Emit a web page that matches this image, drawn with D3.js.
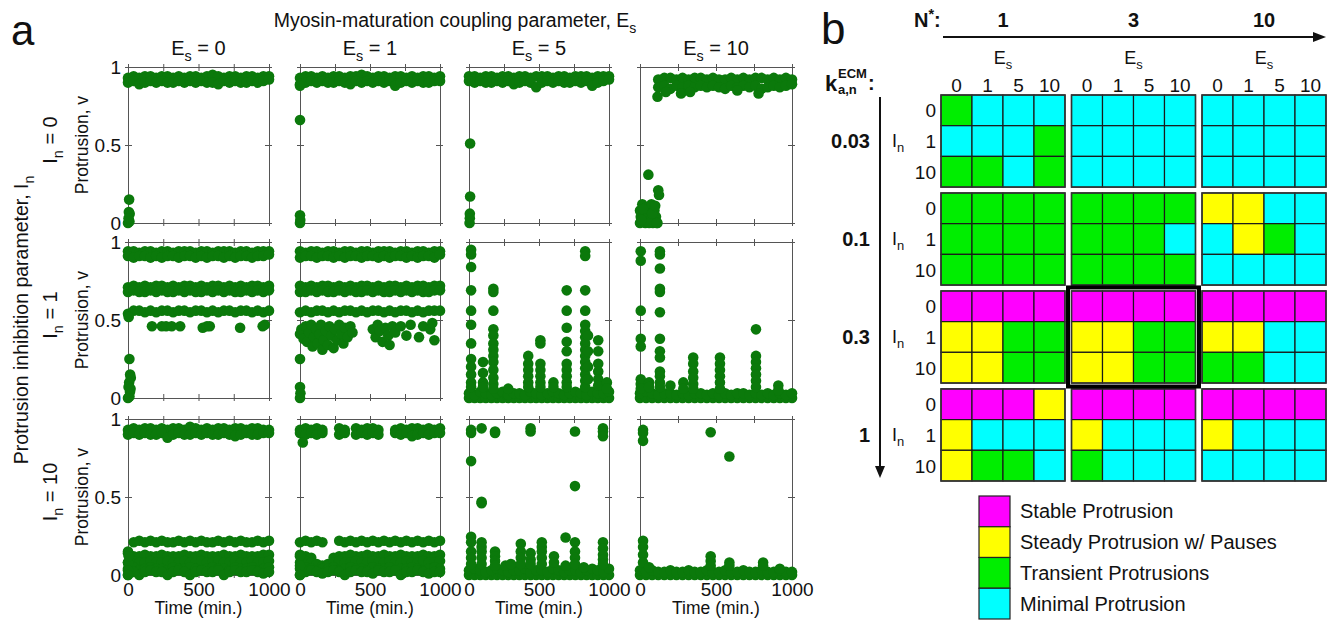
<!DOCTYPE html>
<html><head><meta charset="utf-8">
<script src="https://cdn.jsdelivr.net/npm/d3@7"></script>
<style>
body{margin:0;background:#fff}
svg{display:block}
text{font-family:"Liberation Sans",Arial,Helvetica,sans-serif;fill:#111}
</style>
</head><body><svg id="c" width="1329" height="620"></svg>
<script>
// ---------------- DATA ----------------
// Panel a: sampled times (min.)
const timeGrid = [0,40,80,120,160,200,240,280,320,360,400,440,480,520,560,600,640,680,720,760,800,840,880,920,960,1000];
const esValues = ["0","1","5","10"];
const inValues = ["0","1","10"];
const xTickValues = [0,250,500,750,1000];
const xTickLabels = [0,500,1000];
const yTickValues = [0,0.5,1];
const zeroRow = [0,0,0,0,0,0,0,0,0,0,0,0,0,0,0,0,0,0,0,0,0,0,0,0,0,0];

// I_n = 0
const r0c0Bands = [
 [0.93,0.94,0.93,0.94,0.94,0.93,0.94,0.94,0.93,0.94,0.93,0.94,0.94, 0.93,0.94,0.95,0.94,0.93,0.94,0.94,0.93,0.94,0.94,0.93,0.94,0.94],
 [0.90,0.91,0.89,0.90,0.91,0.90,0.91,0.90,0.90,0.91,0.90,0.91,0.90, 0.91,0.90,0.90,0.89,0.91,0.90,0.91,0.90,0.90,0.91,0.90,0.91,0.92]];
const r0c0Points = [[8,0.15],[6,0.07],[12,0.06],[0,0.0],[10,0.01],[4,0.03]];
const r0c1Bands = [
 [0.93,0.94,0.94,0.93,0.94,0.93,0.94,0.94,0.93,0.94,0.94,0.95,0.94, 0.93,0.94,0.94,0.93,0.94,0.94,0.93,0.94,0.93,0.94,0.94,0.93,0.94],
 [0.89,0.90,0.91,0.90,0.91,0.90,0.90,0.91,0.90,0.89,0.91,0.90,0.91, 0.90,0.91,0.90,0.91,0.88,0.90,0.91,0.90,0.91,0.90,0.90,0.91,0.91]];
const r0c1Points = [[0,0.88],[0,0.66],[0,0.05],[0,0.0],[2,0.02]];
const r0c2Bands = [
 [0.94,0.94,0.93,0.94,0.94,0.93,0.94,0.94,0.93,0.94,0.94,0.93,0.94, 0.94,0.94,0.93,0.94,0.94,0.93,0.94,0.94,0.94,0.93,0.94,0.94,0.94],
 [0.91,0.90,0.91,0.90,0.90,0.91,0.90,0.91,0.89,0.90,0.91,0.90,0.87, 0.90,0.91,0.90,0.91,0.90,0.90,0.91,0.90,0.91,0.88,0.90,0.91,0.92]];
const r0c2Points = [[8,0.51],[8,0.17],[6,0.06],[6,0.03],[4,0.0]];
const r0c3Bands = [
 [null,null,null,0.92,0.93,0.93,0.92,0.93,0.92,0.93,0.93,0.92,0.93, 0.92,0.92,0.93,0.92,0.93,0.92,0.93,0.93,0.92,0.93,0.92,0.93,0.92],
 [null,null,null,0.87,0.88,0.86,0.88,0.87,0.88,0.87,0.88,0.87,0.88, 0.87,0.86,0.88,0.87,0.88,0.87,0.88,0.86,0.87,0.88,0.87,0.88,0.89]];
const r0c3Points = [[115,0.81],[170,0.84],[270,0.83],[330,0.84],[640,0.85],[780,0.83],[55,0.31],[120,0.21],[125,0.18],
 [0,0.0],[5,0.04],[0,0.08],[15,0.12],[25,0.05],[35,0.0],[45,0.10],[55,0.07],[65,0.03],[75,0.12],[85,0.0],[95,0.08],
 [105,0.04],[115,0.0],[20,0.09],[40,0.03],[60,0.0],[80,0.06],[100,0.11],[110,0.0],[10,0.02]];

// I_n = 1
const r1c0Bands = [
 [0.94,0.94,0.93,0.94,0.94,0.93,0.94,0.94,0.93,0.94,0.94,0.94,0.93, 0.94,0.94,0.93,0.94,0.94,0.94,0.93,0.94,0.94,0.93,0.94,0.94,0.94],
 [0.91,0.90,0.91,0.91,0.90,0.91,0.90,0.91,0.91,0.90,0.91,0.91,0.90, 0.91,0.90,0.91,0.91,0.90,0.91,0.90,0.91,0.91,0.90,0.91,0.91,0.92],
 [0.71,0.72,0.71,0.72,0.71,0.72,0.72,0.71,0.72,0.71,0.72,0.72,0.71, 0.72,0.71,0.72,0.72,0.71,0.72,0.71,0.72,0.71,0.72,0.72,0.71,0.72],
 [0.68,0.69,0.68,0.68,0.69,0.68,0.69,0.68,0.68,0.69,0.68,0.69,0.68, 0.68,0.69,0.68,0.69,0.68,0.69,0.68,0.68,0.69,0.68,0.69,0.68,0.69],
 [0.54,0.56,0.56,0.55,0.56,0.55,0.56,0.56,0.55,0.56,0.56,0.55,0.56, 0.56,0.55,0.56,0.55,0.56,0.56,0.55,0.56,0.56,0.55,0.56,0.55,0.56]];
const r1c0Points = [[5,0.52],[170,0.46],[240,0.46],[270,0.46],[310,0.46],[370,0.46],[530,0.45],[560,0.46],[580,0.46],
 [795,0.45],[955,0.46],[970,0.47],[10,0.25],[15,0.15],[20,0.13],[8,0.10],[4,0.07],[14,0.04],[0,0.0],[10,0.01],[18,0.06]];
const r1c1Bands = [
 [0.94,0.93,0.94,0.94,0.93,0.94,0.94,0.93,0.94,0.94,0.93,0.94,0.94, 0.93,0.94,0.94,0.94,0.93,0.94,0.94,0.93,0.94,0.94,0.93,0.94,0.94],
 [0.90,0.91,0.91,0.90,0.91,0.91,0.90,0.91,0.90,0.91,0.91,0.90,0.91, 0.91,0.90,0.91,0.90,0.91,0.91,0.90,0.91,0.90,0.91,0.91,0.90,0.92],
 [0.72,0.71,0.72,0.71,0.72,0.72,0.71,0.72,0.71,0.72,0.71,0.72,0.72, 0.71,0.72,0.71,0.72,0.72,0.71,0.72,0.71,0.72,0.72,0.71,0.72,0.72],
 [0.68,0.68,0.69,0.68,0.69,0.68,0.68,0.69,0.68,0.69,0.68,0.68,0.69, 0.68,0.69,0.68,0.68,0.69,0.68,0.69,0.68,0.69,0.68,0.68,0.69,0.69],
 [0.55,0.56,0.55,0.56,0.56,0.55,0.56,0.55,0.56,0.56,0.55,0.56,0.55, 0.56,0.56,0.55,0.56,0.55,0.56,0.56,0.55,0.56,0.55,0.56,0.56,0.56]];
const r1c1Points = [[0,0.41],[10,0.44],[25,0.38],[40,0.46],[50,0.36],[65,0.42],[80,0.47],[90,0.33],[100,0.39],[115,0.44],
 [125,0.35],[140,0.41],[150,0.47],[160,0.31],[170,0.37],[185,0.43],[200,0.34],[210,0.46],[225,0.40],[240,0.32],[250,0.44],
 [265,0.37],[280,0.47],[295,0.41],[310,0.35],[320,0.45],[340,0.39],[360,0.46],[375,0.42],[520,0.44],[540,0.39],[555,0.47],
 [570,0.43],[590,0.36],[610,0.45],[630,0.40],[640,0.34],[660,0.46],[680,0.42],[720,0.46],[760,0.40],[790,0.47],[850,0.39],
 [880,0.46],[930,0.44],[945,0.48],[960,0.37],[0,0.25],[0,0.07],[3,0.03],[0,0.0]];
const r1c2Bands = [zeroRow,
 [0.03,0.02,0.04,0.03,0.02,0.03,0.04,0.02,0.03,0.03,0.02,0.04,0.03, 0.02,0.03,0.04,0.03,0.02,0.03,0.04,0.03,0.02,0.04,0.03,0.03,0.04]];
const r1c2Spikes = [
 [15,[0.95,0.92,0.84,0.69,0.56,0.47,0.35,0.25,0.20,0.15,0.10,0.07]],
 [100,[0.23,0.16,0.10,0.07]],
 [174,[0.70,0.68,0.56,0.44,0.40,0.35,0.31,0.27,0.23,0.18,0.13,0.09,0.06]],
 [280,[0.06]],
 [423,[0.27,0.22,0.18,0.14,0.10,0.07]],
 [510,[0.37,0.35,0.22,0.18,0.14,0.10,0.07]],
 [603,[0.10,0.07]],
 [698,[0.69,0.56,0.45,0.36,0.30,0.22,0.18,0.14,0.10,0.07]],
 [830,[0.94,0.91,0.69,0.56,0.47,0.43,0.39,0.35,0.31,0.27,0.23,0.19,0.15,0.11,0.07]],
 [850,[0.40,0.30,0.20,0.12]],
 [923,[0.37,0.30,0.22,0.17,0.12,0.08]],
 [985,[0.10,0.06]]];
const r1c3Bands = [zeroRow,
 [0.03,0.04,0.03,0.02,0.03,0.03,0.02,0.03,0.02,0.03,0.03,0.02,0.03, 0.02,0.03,0.02,0.03,0.03,0.02,0.03,0.02,0.03,0.02,0.03,0.02,0.03]];
const r1c3Spikes = [
 [5,[0.94,0.88,0.56,0.38,0.33,0.12,0.09,0.06]],
 [60,[0.10,0.07]],
 [131,[0.94,0.92,0.83,0.70,0.68,0.55,0.38,0.30,0.26,0.17,0.14,0.10,0.07]],
 [200,[0.08]],
 [285,[0.10,0.06]],
 [350,[0.26,0.22,0.17,0.13,0.09,0.06]],
 [526,[0.26,0.22,0.18,0.14,0.10,0.06]],
 [763,[0.44,0.27,0.23,0.19,0.15,0.11,0.07]],
 [910,[0.08,0.05]]];

// I_n = 10
const r2c0Bands = [
 [0.93,0.94,0.93,0.94,0.94,0.93,0.94,0.93,0.94,0.94,0.93,0.95,0.94, 0.93,0.94,0.93,0.94,0.94,0.93,0.94,0.94,0.93,0.94,0.94,0.93,0.93],
 [0.90,0.91,0.90,0.91,0.90,0.90,0.91,0.88,0.90,0.91,0.90,0.90,0.91, 0.90,0.91,0.90,0.90,0.91,0.90,0.89,0.90,0.91,0.90,0.90,0.91,0.91],
 [null,0.21,0.22,0.21,0.22,0.21,0.22,0.21,0.21,0.22,0.21,0.22,0.21, 0.22,0.21,0.21,0.22,0.21,0.22,0.21,0.22,0.21,0.21,0.22,0.21,0.22],
 [0.14,0.12,0.12,0.13,0.12,0.12,0.13,0.12,0.12,0.12,0.13,0.12,0.12, 0.13,0.12,0.12,0.12,0.13,0.12,0.12,0.13,0.12,0.12,0.12,0.13,0.13],
 [0.08,0.09,0.08,0.08,0.09,0.08,0.08,0.09,0.08,0.08,0.09,0.08,0.08, 0.09,0.08,0.08,0.09,0.08,0.08,0.09,0.08,0.08,0.09,0.08,0.08,0.09],
 [0.04,0.05,0.03,0.04,0.05,0.04,0.04,0.03,0.05,0.04,0.04,0.05,0.04, 0.03,0.04,0.05,0.04,0.04,0.03,0.05,0.04,0.04,0.05,0.03,0.04,0.05],
 [0.00,0.02,0.00,0.02,0.03,0.02,0.02,0.00,0.02,0.03,0.02,0.00,0.02, 0.03,0.02,0.02,0.03,0.00,0.02,0.03,0.02,0.02,0.03,0.02,0.01,0.02]];
const r2c0Points = [[0,0.15],[0,0.08],[0,0.03],[0,0.0],[5,0.12]];
const r2c1Bands = [
 [0.93,0.94,0.93,0.94,0.93,null,null,0.94,0.93,null,0.94,0.93,0.94, 0.94,0.93,null,null,0.93,0.94,0.93,0.94,0.94,0.93,0.94,0.93,0.94],
 [0.91,0.90,0.91,0.90,0.91,null,null,0.90,0.91,null,0.90,0.91,0.90, 0.91,0.90,null,null,0.91,0.90,0.91,0.89,0.90,0.91,0.90,0.91,0.91],
 [0.21,0.22,0.21,0.22,0.21,null,null,0.22,0.21,0.22,0.21,0.22,0.21, 0.22,0.21,0.22,0.21,0.22,0.21,0.22,0.21,0.22,0.21,0.22,0.21,0.22],
 [0.13,0.12,0.11,null,null,null,0.11,0.12,0.12,0.13,0.12,0.12,0.13, 0.12,0.12,0.13,0.12,0.12,0.13,0.12,0.12,0.12,0.13,0.12,0.12,0.13],
 [0.08,0.09,0.08,0.07,0.06,0.07,0.08,0.09,0.08,0.08,0.09,0.08,0.08, 0.09,0.08,0.08,0.09,0.08,0.08,0.09,0.08,0.08,0.09,0.08,0.08,0.09],
 [0.04,0.05,0.04,0.03,0.04,0.04,0.05,0.03,0.04,0.05,0.04,0.04,0.03, 0.05,0.04,0.04,0.05,0.03,0.04,0.04,0.05,0.04,0.03,0.04,0.05,0.04],
 [0.00,0.02,0.03,0.02,0.01,0.02,0.03,0.02,0.00,0.02,0.03,0.02,0.02, 0.01,0.03,0.02,0.02,0.03,0.00,0.02,0.02,0.03,0.02,0.01,0.02,0.02]];
const r2c1Points = [[20,0.85],[0,0.12],[0,0.06],[0,0.0]];
const r2c2Bands = [zeroRow,
 [0.03,0.04,0.03,0.02,0.03,0.04,0.03,0.02,0.03,0.03,0.04,0.02,0.03, 0.03,0.02,0.04,0.03,0.02,0.03,0.03,0.02,0.03,0.04,0.03,0.02,0.04]];
const r2c2Spikes = [
 [15,[0.93,0.91,0.73,0.245,0.21,0.15,0.11,0.07]],
 [90,[0.94,0.47,0.46,0.21,0.18,0.15,0.11,0.07]],
 [186,[0.92,0.91,0.15,0.12,0.09,0.06]],
 [260,[0.06]],
 [300,[0.07]],
 [370,[0.20,0.15,0.11,0.07]],
 [440,[0.94,0.92,0.14,0.10,0.07]],
 [520,[0.21,0.18,0.15,0.11,0.07]],
 [607,[0.12,0.08]],
 [690,[0.24,0.06]],
 [757,[0.92,0.57,0.21,0.15,0.11,0.07]],
 [820,[0.05]],
 [957,[0.94,0.92,0.89,0.21,0.17,0.13,0.10,0.07]]];
const r2c3Bands = [zeroRow,
 [0.03,0.02,0.03,0.02,0.02,0.03,0.02,0.02,0.03,0.02,0.02,0.03,0.02, 0.02,0.03,0.02,0.02,0.03,0.02,0.02,0.03,0.02,0.02,0.03,0.02,0.02]];
const r2c3Spikes = [
 [20,[0.93,0.91,0.86,0.22,0.18,0.13,0.08]],
 [60,[0.05]],
 [465,[0.915,0.12,0.09,0.06]],
 [588,[0.76,0.08,0.06]],
 [810,[0.08,0.06]],
 [920,[0.04]]];

// Panel b: phase classification
const kLabels = ["0.03","0.1","0.3","1"];
const nLabels = ["1","3","10"];
const phaseK003 = [["TMMM","MMMT","TTMT"],["MMMM","MMMM","MMMM"],["MMMM","MMMM","MMMM"]];
const phaseK01  = [["TTTT","TTTT","TTTT"],["TTTT","TTTM","TTTT"],["PPMM","MPTM","MMMM"]];
const phaseK03  = [["SSSS","PPTT","PPTT"],["SSSS","PPTT","PPTT"],["SSSS","PPMM","TTMM"]];
const phaseK1   = [["SSSP","PMMM","PTTM"],["SSSS","PMMM","TMMM"],["SSSS","PMMM","MMMM"]];
const legendKeys = ["S","P","T","M"];
const legendLabels = ["Stable Protrusion","Steady Protrusion w/ Pauses","Transient Protrusions","Minimal Protrusion"];

// ---------------- DRAWING ----------------
const svg = d3.select("#c");
const DOT = "#0b790b";
const colRanges = [[128,269],[300,440],[469,609],[640,792]];
const rowRanges = [[67,223],[242,398],[419,575]];

function rich(parent, x, y, parts, size, opts = {}) {
  const t = parent.append("text").attr("x", x).attr("y", y).attr("font-size", size)
    .attr("text-anchor", opts.anchor || "start").attr("font-weight", opts.weight || "normal");
  if (opts.rotate) t.attr("transform", `rotate(${opts.rotate},${x},${y})`);
  let cur = 0;
  parts.forEach(p => {
    const [s, kind] = typeof p === "string" ? [p, "n"] : p;
    const off = kind === "sub" ? size * 0.3 : kind === "sup" ? -size * 0.4 : 0;
    const ts = t.append("tspan").text(s);
    if (off !== cur) { ts.attr("dy", off - cur); cur = off; }
    if (kind !== "n") ts.attr("font-size", size * 0.72);
  });
  return t;
}

const panels = [
  {row:0,col:0,bands:r0c0Bands,points:r0c0Points,spikes:[]},
  {row:0,col:1,bands:r0c1Bands,points:r0c1Points,spikes:[]},
  {row:0,col:2,bands:r0c2Bands,points:r0c2Points,spikes:[]},
  {row:0,col:3,bands:r0c3Bands,points:r0c3Points,spikes:[]},
  {row:1,col:0,bands:r1c0Bands,points:r1c0Points,spikes:[]},
  {row:1,col:1,bands:r1c1Bands,points:r1c1Points,spikes:[]},
  {row:1,col:2,bands:r1c2Bands,points:[],spikes:r1c2Spikes},
  {row:1,col:3,bands:r1c3Bands,points:[],spikes:r1c3Spikes},
  {row:2,col:0,bands:r2c0Bands,points:r2c0Points,spikes:[]},
  {row:2,col:1,bands:r2c1Bands,points:r2c1Points,spikes:[]},
  {row:2,col:2,bands:r2c2Bands,points:[],spikes:r2c2Spikes},
  {row:2,col:3,bands:r2c3Bands,points:[],spikes:r2c3Spikes}
];

const ga = svg.append("g");
panels.forEach(p => {
  const x = d3.scaleLinear().domain([0,1000]).range(colRanges[p.col]);
  const y = d3.scaleLinear().domain([0,1]).range([rowRanges[p.row][1], rowRanges[p.row][0]]);
  const g = ga.append("g");
  const pts = [];
  p.bands.forEach(b => b.forEach((v,i) => { if (v != null) pts.push([timeGrid[i], v]); }));
  p.points.forEach(d => pts.push(d));
  p.spikes.forEach(([t, vs]) => vs.forEach(v => pts.push([t, v])));
  const axCol = "#555";
  const addAxis = (axis, tx, ty) => {
    const a = g.append("g").attr("transform", `translate(${tx},${ty})`).call(axis);
    a.select(".domain").attr("stroke", axCol);
    a.selectAll(".tick line").attr("stroke", axCol);
    a.selectAll("text").attr("font-size", 19).attr("fill", "#111").style("font-family", '"Liberation Sans",Arial,sans-serif');
    return a;
  };
  const y0 = rowRanges[p.row][1], y1 = rowRanges[p.row][0];
  const x0 = colRanges[p.col][0], x1 = colRanges[p.col][1];
  addAxis(d3.axisBottom(x).tickValues(xTickValues).tickSizeInner(-4).tickSizeOuter(0)
    .tickFormat(d => (p.row === 2 && xTickLabels.includes(d)) ? d : "").tickPadding(8), 0, y0);
  addAxis(d3.axisBottom(x).tickValues(xTickValues).tickSizeInner(3).tickSizeOuter(0).tickFormat(""), 0, y0);
  addAxis(d3.axisTop(x).tickValues(xTickValues).tickSizeInner(-4).tickSizeOuter(0).tickFormat(""), 0, y1);
  addAxis(d3.axisTop(x).tickValues(xTickValues).tickSizeInner(3).tickSizeOuter(0).tickFormat(""), 0, y1);
  addAxis(d3.axisLeft(y).tickValues(yTickValues).tickSizeInner(-4).tickSizeOuter(0)
    .tickFormat(d => p.col === 0 ? d3.format("")(d) : "").tickPadding(7), x0, 0);
  addAxis(d3.axisLeft(y).tickValues(yTickValues).tickSizeInner(3).tickSizeOuter(0).tickFormat(""), x0, 0);
  addAxis(d3.axisRight(y).tickValues(yTickValues).tickSizeInner(-4).tickSizeOuter(0).tickFormat(""), x1, 0);
  addAxis(d3.axisRight(y).tickValues(yTickValues).tickSizeInner(3).tickSizeOuter(0).tickFormat(""), x1, 0);
  g.append("g").selectAll("circle").data(pts).join("circle")
    .attr("cx", d => x(d[0])).attr("cy", d => y(d[1])).attr("r", 5.3).attr("fill", DOT);
});

// Panel a labels
svg.append("text").attr("x", 11).attr("y", 45).attr("font-size", 42).text("a");
rich(svg, 455, 27, ["Myosin-maturation coupling parameter, E", ["s","sub"]], 19.5, {anchor:"middle"});
esValues.forEach((e, i) => {
  const cx = (colRanges[i][0] + colRanges[i][1]) / 2;
  rich(svg, cx, 55, ["E", ["s","sub"], " = " + e], 20, {anchor:"middle"});
});
inValues.forEach((v, i) => {
  const cy = (rowRanges[i][0] + rowRanges[i][1]) / 2;
  rich(svg, 88, cy, ["Protrusion, v"], 17.5, {anchor:"middle", rotate:-90});
  rich(svg, 57, cy - 5, ["I", ["n","sub"], " = " + v], 20, {anchor:"middle", rotate:-90});
});
rich(svg, 28, 320, ["Protrusion inhibition parameter, I", ["n","sub"]], 19.5, {anchor:"middle", rotate:-90});
colRanges.forEach(r => {
  svg.append("text").attr("x", (r[0]+r[1])/2).attr("y", 614).attr("text-anchor","middle").attr("font-size", 17.5).text("Time (min.)");
});

// ---------------- Panel b ----------------
const gb = svg.append("g");
const colorOf = {S:"#ff00ff", P:"#ffff00", T:"#00ee00", M:"#00ffff"};
const phases = [phaseK003, phaseK01, phaseK03, phaseK1];
const kBand = d3.scaleBand().domain(kLabels).range([95, 481]).paddingInner(0.06);
const nBand = d3.scaleBand().domain(nLabels).range([941, 1326]).paddingInner(0.05);
const esBand = d3.scaleBand().domain(esValues).range([0, nBand.bandwidth()]);
const inBand = d3.scaleBand().domain(inValues).range([0, kBand.bandwidth()]);

svg.append("text").attr("x", 821).attr("y", 44).attr("font-size", 44).text("b");

kLabels.forEach((k, ki) => {
  nLabels.forEach((n, ni) => {
    const bx = nBand(n), by = kBand(k);
    const rows = phases[ki][ni];
    inValues.forEach((iv, ri) => {
      esValues.forEach((ev, ci) => {
        gb.append("rect").attr("x", bx + esBand(ev)).attr("y", by + inBand(iv))
          .attr("width", esBand.bandwidth()).attr("height", inBand.bandwidth())
          .attr("fill", colorOf[rows[ri][ci]]).attr("stroke", "#1a1a1a").attr("stroke-width", 1.2);
      });
    });
    gb.append("rect").attr("x", bx).attr("y", by).attr("width", nBand.bandwidth()).attr("height", kBand.bandwidth())
      .attr("fill", "none").attr("stroke", "#333").attr("stroke-width", 1.5);
  });
  const cy = kBand(k) + kBand.bandwidth() / 2;
  gb.append("text").attr("x", 870).attr("y", cy + 7).attr("text-anchor", "end").attr("font-size", 20)
    .attr("font-weight", "bold").text(k);
  rich(gb, 892, kBand(k) + inBand("1") + inBand.bandwidth()/2 + 6, ["I", ["n","sub"]], 18);
  inValues.forEach(iv => {
    gb.append("text").attr("x", 936).attr("y", kBand(k) + inBand(iv) + inBand.bandwidth()/2 + 7)
      .attr("text-anchor", "end").attr("font-size", 19).text(iv);
  });
});
gb.append("rect").attr("x", nBand("3") - 3.5).attr("y", kBand("0.3") - 3.5)
  .attr("width", nBand.bandwidth() + 7).attr("height", kBand.bandwidth() + 7)
  .attr("fill", "none").attr("stroke", "#000").attr("stroke-width", 4);

nLabels.forEach(n => {
  const cx = nBand(n) + nBand.bandwidth() / 2;
  gb.append("text").attr("x", cx).attr("y", 27).attr("text-anchor", "middle").attr("font-size", 20)
    .attr("font-weight", "bold").text(n);
  rich(gb, cx, 64, ["E", ["s","sub"]], 18, {anchor:"middle"});
  esValues.forEach(ev => {
    gb.append("text").attr("x", nBand(n) + esBand(ev) + esBand.bandwidth()/2).attr("y", 92)
      .attr("text-anchor", "middle").attr("font-size", 19).text(ev);
  });
});
rich(gb, 914, 27, ["N", ["*","sup"], ":"], 20, {weight:"bold"});
gb.append("line").attr("x1", 943).attr("y1", 37).attr("x2", 1316).attr("y2", 37).attr("stroke", "#111").attr("stroke-width", 2);
gb.append("path").attr("d", "M1326,37 L1313,32 L1313,42 Z").attr("fill", "#111");
gb.append("line").attr("x1", 880).attr("y1", 97).attr("x2", 880).attr("y2", 468).attr("stroke", "#111").attr("stroke-width", 2);
gb.append("path").attr("d", "M880,478 L875,466 L885,466 Z").attr("fill", "#111");
gb.append("text").attr("x", 825).attr("y", 91).attr("font-size", 22).attr("font-weight", "bold").text("k");
gb.append("text").attr("x", 838).attr("y", 78).attr("font-size", 13).attr("font-weight", "bold").text("ECM");
gb.append("text").attr("x", 838).attr("y", 94).attr("font-size", 13).attr("font-weight", "bold").text("a,n");
gb.append("text").attr("x", 868).attr("y", 90).attr("font-size", 20).attr("font-weight", "bold").text(":");

const legBand = d3.scaleBand().domain(legendKeys).range([496, 619]);
legendKeys.forEach((k, i) => {
  gb.append("rect").attr("x", 979).attr("y", legBand(k)).attr("width", 31).attr("height", legBand.bandwidth())
    .attr("fill", colorOf[k]).attr("stroke", "#222").attr("stroke-width", 1.2);
  gb.append("text").attr("x", 1020).attr("y", legBand(k) + legBand.bandwidth()/2 + 7)
    .attr("font-size", 20).text(legendLabels[i]);
});
</script>
</body></html>
